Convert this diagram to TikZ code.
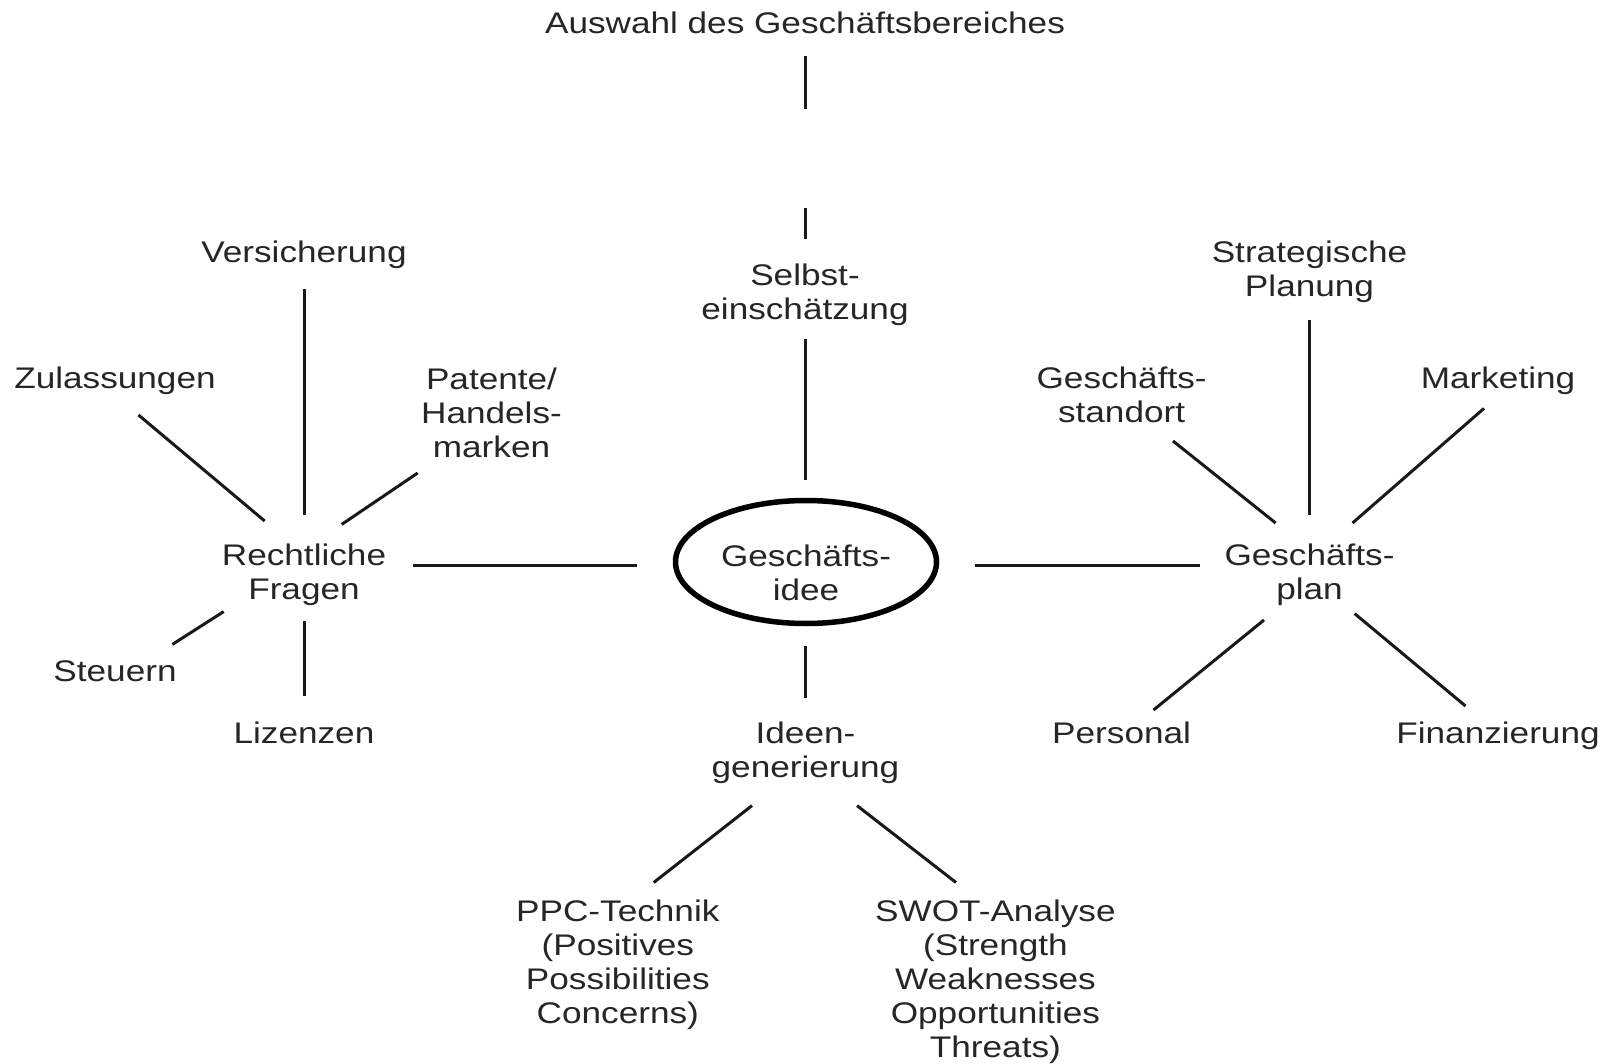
\documentclass[tikz,border=0pt]{standalone}
\usepackage{fontspec}
\setmainfont{Liberation Sans}[FakeStretch=1.18]
\begin{document}
\begin{tikzpicture}[x=1pt,y=-1pt,
  lbl/.style={align=center,inner sep=0pt,text=black!85,font=\fontsize{29.8}{34}\selectfont},
  con/.style={line width=3pt,black!90}]
\useasboundingbox[fill=white] (0,0) rectangle (1609,1064);
% ----- nodes
\node[lbl] (top) at (805,23) {Auswahl des Geschäftsbereiches};
\node[lbl] (self) at (805,295) {Selbst-\\einschätzung};
\draw[line width=5.5pt] (806,562) ellipse [x radius=130.5, y radius=61.5];
\node[lbl] (idee) at (806,573) {Geschäfts-\\idee};
\node[lbl] (recht) at (304,575) {Rechtliche\\Fragen};
\node[lbl] (plan) at (1309.5,575) {Geschäfts-\\plan};
\node[lbl] (vers) at (304,255) {Versicherung};
\node[lbl] (zul) at (115,381) {Zulassungen};
\node[lbl] (pat) at (491.5,413) {Patente/\\Handels-\\marken};
\node[lbl] (steu) at (115,671) {Steuern};
\node[lbl] (liz) at (304,733) {Lizenzen};
\node[lbl] (gen) at (805.5,753) {Ideen-\\generierung};
\node[lbl] (ppc) at (617.8,965) {PPC-Technik\\(Positives\\Possibilities\\Concerns)};
\node[lbl] (swot) at (995.4,982) {SWOT-Analyse\\(Strength\\Weaknesses\\Opportunities\\Threats)};
\node[lbl] (strat) at (1309.5,272) {Strategische\\Planung};
\node[lbl] (stand) at (1121.6,395) {Geschäfts-\\standort};
\node[lbl] (mark) at (1498,381) {Marketing};
\node[lbl] (pers) at (1121.6,733) {Personal};
\node[lbl] (fin) at (1498,736) {Finanzierung};
% ----- connector end points
\coordinate (t1) at (805,56);   \coordinate (t2) at (805,109);
\coordinate (t3) at (805,208);  \coordinate (t4) at (805,239);
\coordinate (s1) at (805,339);  \coordinate (s2) at (805,480);
\coordinate (g1) at (805,646);  \coordinate (g2) at (805,698);
\coordinate (hl1) at (412.5,565); \coordinate (hl2) at (637,565);
\coordinate (hr1) at (975,565);   \coordinate (hr2) at (1200,565);
\coordinate (v1) at (304,289);  \coordinate (v2) at (304,515);
\coordinate (z1) at (138.5,415); \coordinate (z2) at (264.7,521);
\coordinate (p1) at (417.7,473); \coordinate (p2) at (341.7,524.4);
\coordinate (st1) at (223.7,611.6); \coordinate (st2) at (172.4,644.4);
\coordinate (l1) at (304,621);  \coordinate (l2) at (304,696);
\coordinate (pp1) at (752,805.6); \coordinate (pp2) at (653.7,882.5);
\coordinate (sw1) at (857,805.6); \coordinate (sw2) at (956,882.5);
\coordinate (sp1) at (1309.5,320); \coordinate (sp2) at (1309.5,515);
\coordinate (so1) at (1173,441); \coordinate (so2) at (1275.6,523);
\coordinate (m1) at (1484,408.4); \coordinate (m2) at (1352.5,523);
\coordinate (pe1) at (1264,620); \coordinate (pe2) at (1153.5,710);
\coordinate (f1) at (1354.6,613.6); \coordinate (f2) at (1465.5,706);
% ----- connectors
\draw[con] (t1) -- (t2);
\draw[con] (t3) -- (t4);
\draw[con] (s1) -- (s2);
\draw[con] (g1) -- (g2);
\draw[con] (hl1) -- (hl2);
\draw[con] (hr1) -- (hr2);
\draw[con] (v1) -- (v2);
\draw[con] (z1) -- (z2);
\draw[con] (p1) -- (p2);
\draw[con] (st1) -- (st2);
\draw[con] (l1) -- (l2);
\draw[con] (pp1) -- (pp2);
\draw[con] (sw1) -- (sw2);
\draw[con] (sp1) -- (sp2);
\draw[con] (so1) -- (so2);
\draw[con] (m1) -- (m2);
\draw[con] (pe1) -- (pe2);
\draw[con] (f1) -- (f2);
\end{tikzpicture}
\end{document}
